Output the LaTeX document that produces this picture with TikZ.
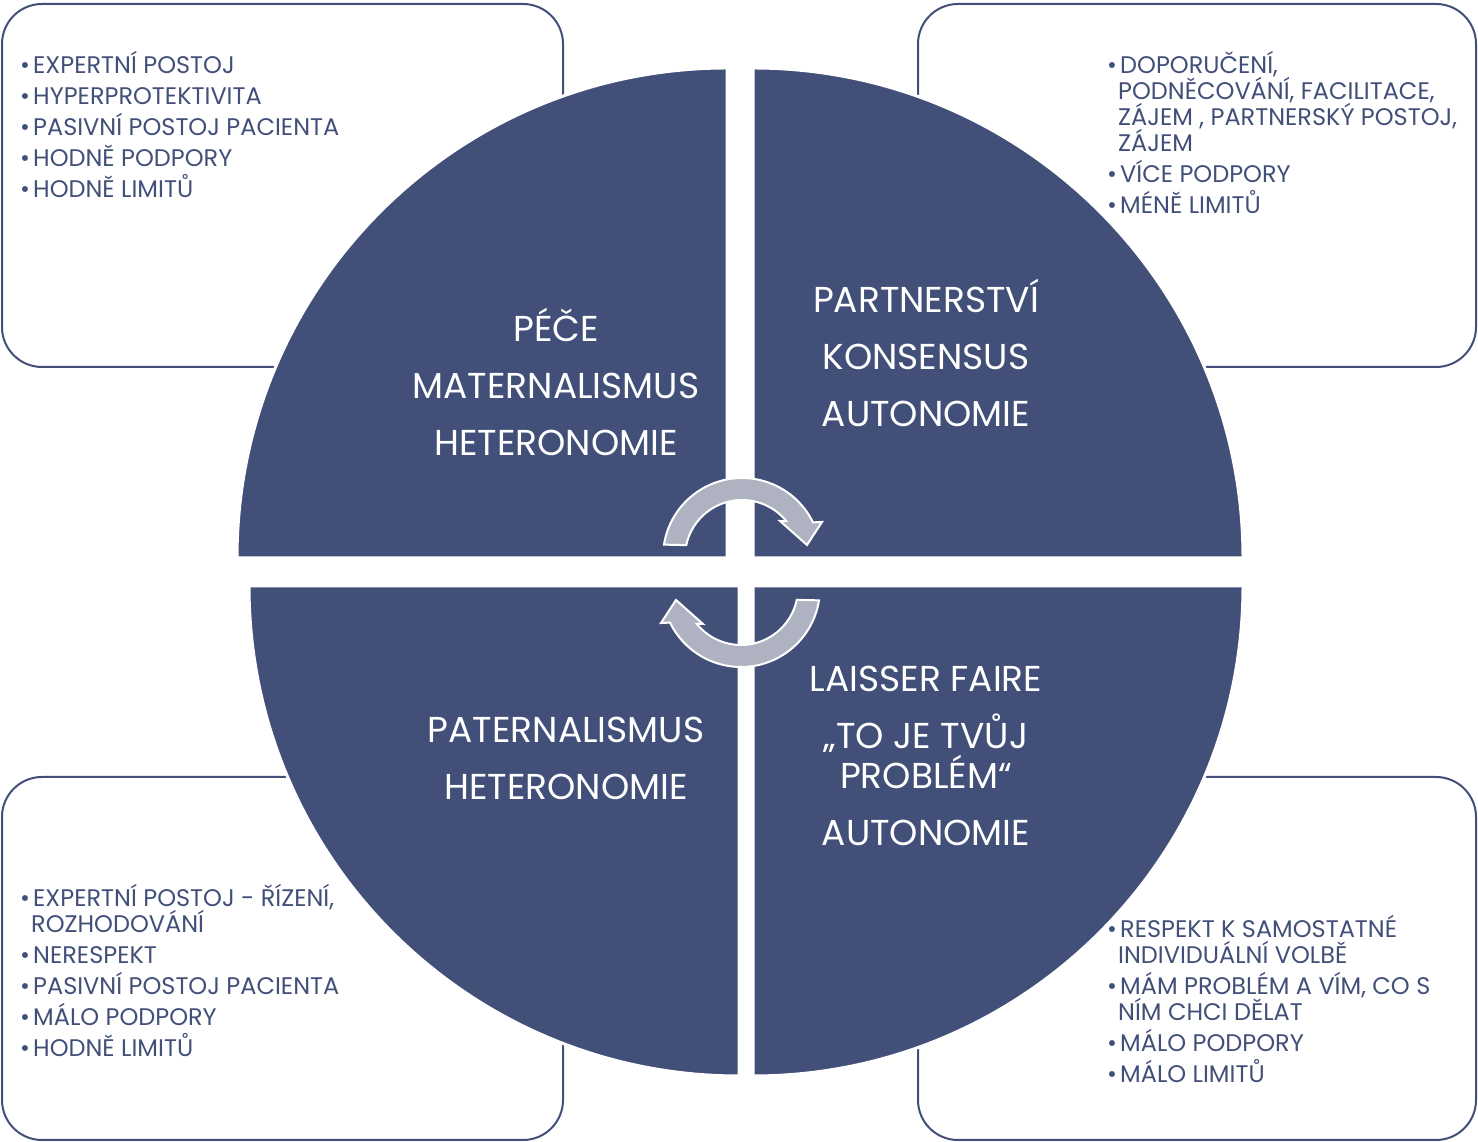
\documentclass[tikz,border=0pt]{standalone}
\usepackage{fontspec}
\setmainfont{Poppins}
\usetikzlibrary{positioning}
\definecolor{quadblue}{RGB}{66,80,121}
\definecolor{arrowgrey}{RGB}{175,178,192}
\tikzstyle{quarter} = [fill=quadblue, draw=white, line width=3pt]
\tikzstyle{listbox} = [draw=quadblue, line width=2pt, rounded corners=40pt]
\tikzstyle{listtext} = [text=quadblue, align=left, anchor=north west,
    inner sep=0pt, font=\fontsize{24}{26}\selectfont]
\tikzstyle{bigtext} = [text=white, align=center, inner sep=0pt,
    font=\fontsize{36}{40}\selectfont]
\def\dotitem{\makebox[13pt][l]{\textbullet}}
\def\wrapline{\hspace*{11pt}}
\def\firstline{\rule{0pt}{24pt}}
\def\cyclearrow{
    \filldraw[fill=arrowgrey, draw=white, line width=2pt]
        (171:79) arc (171:26:79) -- (80,35) -- (65,12) -- (38,36)
        -- (39:57) arc (39:168:57) -- cycle;
}

\begin{document}
\begin{tikzpicture}[x=1pt, y=1pt]
\useasboundingbox (0,0) rectangle (1478,1142);

\draw[listbox] (2,775) rectangle (563,1138);
\draw[listbox] (918,775) rectangle (1476,1138);
\draw[listbox] (2,2) rectangle (563,365);
\draw[listbox] (918,2) rectangle (1476,365);

\node[listtext] (peceList) at (20,1093) {\firstline\dotitem EXPERTNÍ POSTOJ\\[5pt]
    \dotitem HYPERPROTEKTIVITA\\[5pt]
    \dotitem PASIVNÍ POSTOJ PACIENTA\\[5pt]
    \dotitem HODNĚ PODPORY\\[5pt]
    \dotitem HODNĚ LIMITŮ};
\node[listtext] (partnerList) at (1107,1093) {\firstline\dotitem DOPORUČENÍ,\\
    \wrapline PODNĚCOVÁNÍ, FACILITACE,\\
    \wrapline ZÁJEM , PARTNERSKÝ POSTOJ,\\
    \wrapline ZÁJEM\\[5pt]
    \dotitem VÍCE PODPORY\\[5pt]
    \dotitem MÉNĚ LIMITŮ};
\node[listtext] (paterList) at (20,260) {\firstline\dotitem EXPERTNÍ POSTOJ - ŘÍZENÍ,\\
    \wrapline ROZHODOVÁNÍ\\[5pt]
    \dotitem NERESPEKT\\[5pt]
    \dotitem PASIVNÍ POSTOJ PACIENTA\\[5pt]
    \dotitem MÁLO PODPORY\\[5pt]
    \dotitem HODNĚ LIMITŮ};
\node[listtext] (laisserList) at (1107,229) {\firstline\dotitem RESPEKT K SAMOSTATNÉ\\
    \wrapline INDIVIDUÁLNÍ VOLBĚ\\[5pt]
    \dotitem MÁM PROBLÉM A VÍM, CO S\\
    \wrapline NÍM CHCI DĚLAT\\[5pt]
    \dotitem MÁLO PODPORY\\[5pt]
    \dotitem MÁLO LIMITŮ};

\path[quarter] (727,584) -- (237,584) arc (180:90:490) -- cycle;
\path[quarter] (753,584) -- (753,1074) arc (90:0:490) -- cycle;
\path[quarter] (739,556) -- (249,556) arc (180:270:490) -- cycle;
\path[quarter] (753,556) -- (1243,556) arc (0:-90:490) -- cycle;

\node[bigtext] (pece) at (556,760) {PÉČE\\[17pt] MATERNALISMUS\\[17pt] HETERONOMIE};
\node[bigtext] (partnerstvi) at (926,789) {PARTNERSTVÍ\\[17pt] KONSENSUS\\[17pt] AUTONOMIE};
\node[bigtext] (paternalismus) at (566,384) {PATERNALISMUS\\[17pt] HETERONOMIE};
\node[bigtext] (laisser) at (926,386) {LAISSER FAIRE\\[17pt] „TO JE TVŮJ\\ PROBLÉM“\\[17pt] AUTONOMIE};

\begin{scope}[xshift=742,yshift=585]
\cyclearrow
\end{scope}
\begin{scope}[xshift=741,yshift=554,rotate=180]
\cyclearrow
\end{scope}
\end{tikzpicture}
\end{document}
